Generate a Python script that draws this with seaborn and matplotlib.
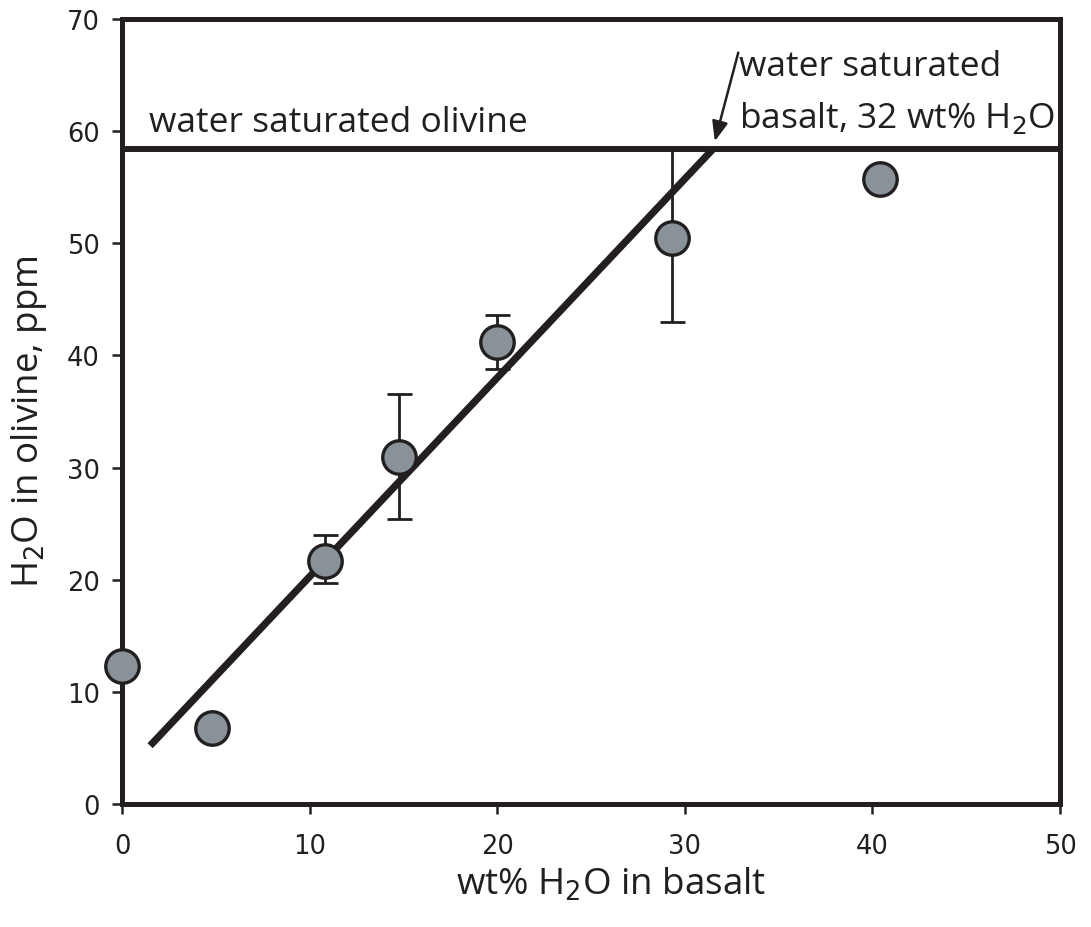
import matplotlib
matplotlib.use("Agg")
import matplotlib.pyplot as plt
import seaborn as sns
import pandas as pd

# ---- data ----
basalt_wt = [0.0, 4.8, 10.8, 14.75, 20.0, 29.3, 40.4]
olivine_ppm = [12.3, 6.8, 21.7, 30.9, 41.2, 50.5, 55.7]

err_x = [10.8, 14.75, 20.0, 29.3]
err_y = [21.7, 30.9, 41.2, 50.5]
err_low = [19.7, 25.4, 38.8, 42.95]
err_high = [24.0, 36.6, 43.6, 58.4]

fit_x = [1.5, 31.5]
fit_y = [5.2, 58.4]

saturation_ppm = 58.4

x_ticks = [0, 10, 20, 30, 40, 50]
y_ticks = [0, 10, 20, 30, 40, 50, 60, 70]

INK = "#231f20"
FILL = "#8a9299"

sns.set_theme(style="white")
plt.rcParams["font.family"] = ["DejaVu Sans"]

fig = plt.figure(figsize=(10.91, 9.28), dpi=100)
ax = fig.add_axes([122 / 1091, 1 - 805 / 928, (1060 - 122) / 1091, (805 - 20) / 928])

df = pd.DataFrame({"x": basalt_wt, "y": olivine_ppm})
fit_df = pd.DataFrame({"x": fit_x, "y": fit_y})

# saturation line
ax.axhline(saturation_ppm, color=INK, lw=4.3, zorder=3)

# fit line
sns.lineplot(data=fit_df, x="x", y="y", ax=ax, color=INK, lw=5.2, zorder=3,
             solid_capstyle="butt")

# error bars
lower = [m - lo for m, lo in zip(err_y, err_low)]
upper = [hi - m for m, hi in zip(err_y, err_high)]
ax.errorbar(err_x, err_y, yerr=[lower, upper], fmt="none", ecolor=INK,
            elinewidth=2.0, capsize=9, capthick=2.0, zorder=2)

# points
sns.scatterplot(data=df, x="x", y="y", ax=ax, s=580, color=FILL,
                edgecolor=INK, linewidth=2.4, zorder=6, clip_on=False)

ax.set_xlim(0, 50)
ax.set_ylim(0, 70)
ax.set_xticks(x_ticks)
ax.set_yticks(y_ticks)
ax.tick_params(axis="both", direction="out", length=7, width=1.8, color=INK,
               labelsize=18.5, labelcolor=INK, bottom=True, left=True)
ax.tick_params(axis="x", pad=14)
ax.tick_params(axis="y", pad=9)

for s in ax.spines.values():
    s.set_visible(True)
    s.set_color(INK)
    s.set_linewidth(3.6)
    s.set_zorder(4)

lab_font = dict(family=["Open Sans", "DejaVu Sans"], size=26.5, color=INK)
ax.set_xlabel("wt% H$_2$O in basalt", **lab_font)
ax.set_ylabel("H$_2$O in olivine, ppm", **lab_font)
ax.xaxis.set_label_coords(0.522, -0.078)
ax.yaxis.set_label_coords(-0.078, 0.488)

txt_font = dict(family=["Open Sans", "DejaVu Sans"], size=25.5, color=INK)
ax.text(1.45, 60.0, "water saturated olivine", va="baseline", ha="left", **txt_font)
ax.text(32.9, 65.0, "water saturated", va="baseline", ha="left", **txt_font)
ax.text(32.9, 60.4, "basalt, 32 wt% H$_2$O", va="baseline", ha="left", **txt_font)

ax.annotate("", xy=(31.6, 59.1), xytext=(32.85, 67.0),
            arrowprops=dict(arrowstyle="-|>,head_length=1.0,head_width=0.4",
                            color=INK, lw=1.8, shrinkA=0, shrinkB=0))

fig.savefig("out.png", dpi=100)
